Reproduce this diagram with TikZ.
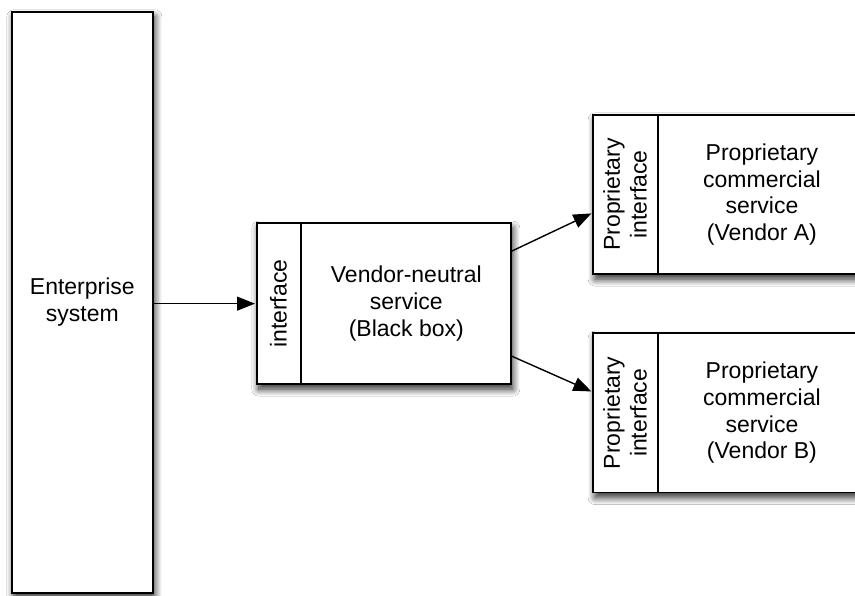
\documentclass[tikz,border=0pt]{standalone}
\usepackage{fontspec}
\setmainfont{Liberation Sans}
\usetikzlibrary{calc,arrows.meta,shadows.blur}

\tikzset{
  shadowbox/.style={draw=black, line width=1.7pt, fill=white,
    blur shadow={shadow xshift=2pt, shadow yshift=-5pt,
      shadow blur radius=7pt, shadow blur steps=12, shadow opacity=85}},
  divline/.style={line width=1.6pt},
  label/.style={font=\fontsize{23}{26.7}\selectfont, align=center, inner sep=0pt},
  conn/.style={line width=1.4pt, -{Triangle[length=18pt,width=14pt]}, shorten >=1pt},
}

\begin{document}
\begin{tikzpicture}[x=1pt, y=-1pt]
  \clip (0,0) rectangle (855,596);
  \fill[white] (0,0) rectangle (855,596);

  % enterprise system
  \node[shadowbox, anchor=north west, minimum width=141pt, minimum height=581pt,
        label, inner sep=0pt] (ent) at (11,11) {Enterprise\\system};

  % vendor-neutral service with its interface column
  \node[shadowbox, anchor=north west, minimum width=254pt, minimum height=161pt] (mid) at (256,222.3) {};
  \coordinate (middiv) at ($(mid.north west)+(45,0)$);
  \draw[divline] (middiv) -- (middiv |- mid.south);
  \node[label, rotate=90] (midif) at ($(mid.north west)!0.5!(middiv |- mid.south)$) {interface};
  \node[label] (midbody) at ($(middiv)!0.5!(mid.south east)$) {Vendor-neutral\\service\\(Black box)};

  % vendor A
  \node[shadowbox, anchor=north west, minimum width=272pt, minimum height=159.3pt] (va) at (592.3,114) {};
  \coordinate (vadiv) at ($(va.north west)+(65.6,0)$);
  \draw[divline] (vadiv) -- (vadiv |- va.south);
  \node[label, rotate=90] (vaif) at ($(va.north west)!0.5!(vadiv |- va.south)$) {Proprietary\\interface};
  \node[label] (vabody) at ($(vadiv)!0.5!(va.south east)$) {Proprietary\\commercial\\service\\(Vendor A)};

  % vendor B
  \node[shadowbox, anchor=north west, minimum width=272pt, minimum height=159.4pt] (vb) at (592.3,332.3) {};
  \coordinate (vbdiv) at ($(vb.north west)+(65.6,0)$);
  \draw[divline] (vbdiv) -- (vbdiv |- vb.south);
  \node[label, rotate=90] (vbif) at ($(vb.north west)!0.5!(vbdiv |- vb.south)$) {Proprietary\\interface};
  \node[label] (vbbody) at ($(vbdiv)!0.5!(vb.south east)$) {Proprietary\\commercial\\service\\(Vendor B)};

  % connectors
  \draw[conn] (ent.east |- mid.west) -- (mid.west);
  \draw[conn] ($(mid.east)+(0,-52.5)$) -- ($(va.west)+(0,18.5)$);
  \draw[conn] ($(mid.east)+(0,52.5)$) -- ($(vb.west)+(0,-21)$);
\end{tikzpicture}
\end{document}
